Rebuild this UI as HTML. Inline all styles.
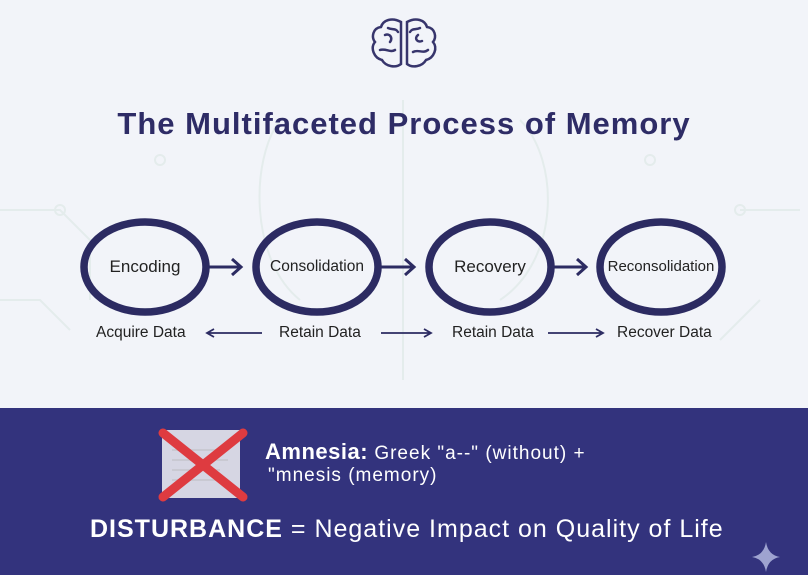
<!DOCTYPE html>
<html><head><style>
body{margin:0;width:808px;height:575px;overflow:hidden;background:#f2f4f9;font-family:"Liberation Sans",sans-serif;position:relative}
.t{position:absolute;white-space:nowrap}
</style></head><body>
<svg width="808" height="575" style="position:absolute;left:0;top:0">
<g fill="none" stroke="#e4ecec" stroke-width="2">
<path d="M0 210 H60 L90 240 V300 M0 300 H40 L70 330 M740 210 H800 M760 300 L720 340 M280 120 C250 160 250 260 300 300 M520 120 C560 160 560 260 500 300 M403 100 V380"/>
<circle cx="60" cy="210" r="5"/><circle cx="740" cy="210" r="5"/><circle cx="160" cy="160" r="5"/><circle cx="650" cy="160" r="5"/>
</g>
<g fill="none" stroke="#37356c" stroke-width="2.5" stroke-linecap="round">
<path d="M401 22 C392 17 383 20 381 27 C373 28 371 37 375 42 C370 48 374 58 382 60 C386 67 396 68 401 64 Z"/>
<path d="M407 22 C416 17 425 20 427 27 C435 28 437 37 433 42 C438 48 434 58 426 60 C422 67 412 68 407 64 Z"/>
<path d="M385 35 C390 33 393 38 390 42 M380 50 C386 48 390 53 395 50 M388 28 C392 30 396 28 398 32 M418 35 C414 38 417 43 422 41 M413 52 C418 49 423 54 428 50 M420 28 C416 30 412 28 410 32"/>
</g>
<g fill="none" stroke="#2c2b62" stroke-width="7.5">
<ellipse cx="145" cy="267" rx="61" ry="45"/>
<ellipse cx="317" cy="267" rx="61" ry="45"/>
<ellipse cx="490" cy="267" rx="61" ry="45"/>
<ellipse cx="661" cy="267" rx="61" ry="45"/>
</g>
<g fill="none" stroke="#2c2b62" stroke-width="3">
<path d="M208 267 H240 M232 259 L241 267 L232 275"/>
<path d="M380 267 H413 M405 259 L414 267 L405 275"/>
<path d="M553 267 H585 M577 259 L586 267 L577 275"/>
</g>
<g fill="none" stroke="#2c2b62" stroke-width="1.8">
<path d="M208 333 H262 M214 329 L207 333 L214 337"/>
<path d="M381 333 H430 M424 329 L431 333 L424 337"/>
<path d="M548 333 H601 M596 329 L603 333 L596 337"/>
</g>
<rect x="0" y="408" width="808" height="167" fill="#33337d"/>
<rect x="162" y="430" width="78" height="68" fill="#e8e8ee" opacity="0.9"/>
<g stroke="#c9c9d2" stroke-width="2"><path d="M172 450H225M172 460H228M172 470H220M172 480H226"/></g>
<g stroke="#de3b40" stroke-width="9" stroke-linecap="round"><path d="M163 433 L243 497 M243 433 L163 497"/></g>
<path d="M766 542 Q768 555 780 557 Q768 559 766 572 Q764 559 752 557 Q764 555 766 542Z" fill="#9ea3d0"/>
</svg>
<div class="t" style="left:0;width:808px;text-align:center;top:106px;font-size:31px;letter-spacing:1px;font-weight:bold;color:#2e2c66">The Multifaceted Process of Memory</div>
<div class="t" style="left:84px;width:122px;text-align:center;top:257px;font-size:17px;color:#222">Encoding</div>
<div class="t" style="left:256px;width:122px;text-align:center;top:258px;font-size:15.5px;color:#222">Consolidation</div>
<div class="t" style="left:429px;width:122px;text-align:center;top:257px;font-size:17px;color:#222">Recovery</div>
<div class="t" style="left:600px;width:122px;text-align:center;top:258px;font-size:15px;color:#222">Reconsolidation</div>
<div class="t" style="left:96px;top:324px;font-size:15.5px;color:#222">Acquire Data</div>
<div class="t" style="left:279px;top:324px;font-size:15.5px;color:#222">Retain Data</div>
<div class="t" style="left:452px;top:324px;font-size:15.5px;color:#222">Retain Data</div>
<div class="t" style="left:617px;top:324px;font-size:15.5px;color:#222">Recover Data</div>
<div class="t" style="left:265px;top:439px;font-size:19px;letter-spacing:1px;color:#fff"><b style="font-size:22px;letter-spacing:0.5px">Amnesia:</b> Greek "a--" (without) +</div>
<div class="t" style="left:268px;top:465px;font-size:19px;letter-spacing:1px;color:#fff">"mnesis (memory)</div>
<div class="t" style="left:90px;top:515px;font-size:25px;letter-spacing:1px;color:#fff"><b>DISTURBANCE</b> = Negative Impact on Quality of Life</div>
</body></html>
